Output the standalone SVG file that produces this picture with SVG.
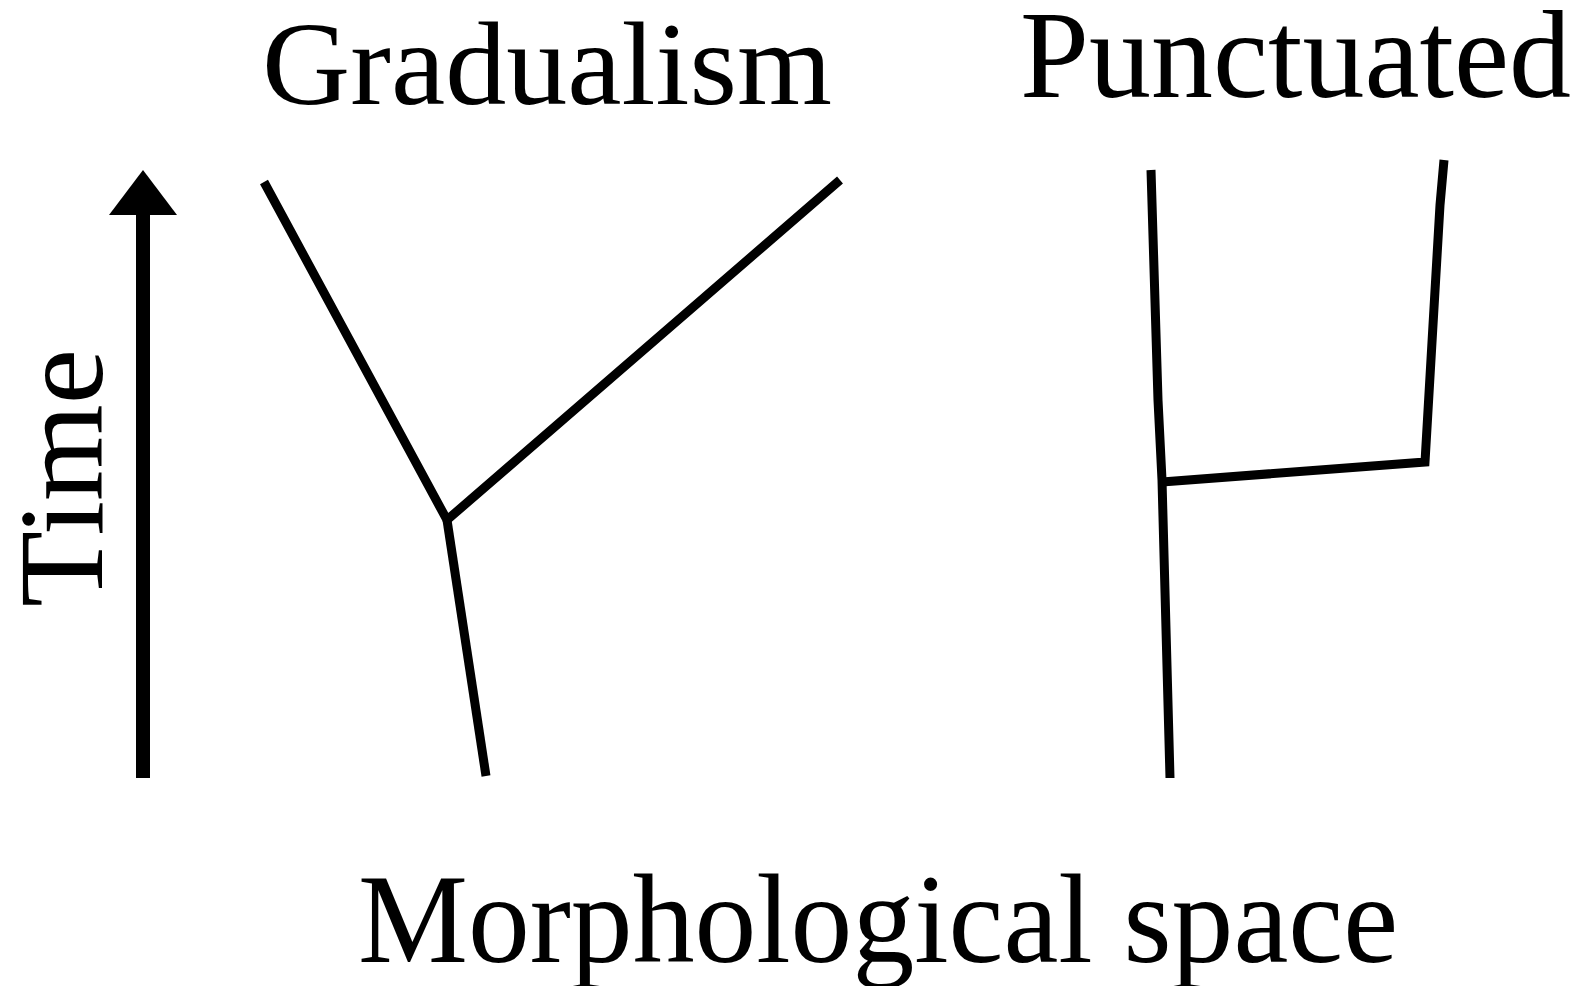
<svg xmlns="http://www.w3.org/2000/svg" width="1581" height="986" viewBox="0 0 1581 986">
<style>
.t{font-family:"Liberation Serif","Times New Roman",serif;fill:#000}
.ln{fill:none;stroke:#000;stroke-width:9;stroke-linejoin:miter;stroke-linecap:butt}
</style>
<rect width="1581" height="986" fill="#fff"/>
<g id="label-gradualism"><text class="t" x="262" y="104" font-size="119" textLength="570" lengthAdjust="spacingAndGlyphs">Gradualism</text></g>
<g id="label-punctuated"><text class="t" x="1020" y="97" font-size="125" textLength="551" lengthAdjust="spacingAndGlyphs">Punctuated</text></g>
<g id="label-time"><text class="t" transform="translate(102,607) rotate(-90)" font-size="120" textLength="258" lengthAdjust="spacingAndGlyphs">Time</text></g>
<g id="label-morph"><text class="t" x="358" y="962" font-size="127" textLength="1040" lengthAdjust="spacingAndGlyphs">Morphological space</text></g>
<g id="time-axis">
<line x1="143" y1="778" x2="143" y2="212" stroke="#000" stroke-width="14"/>
<polygon points="143,170 109,215 177,215" fill="#000"/>
</g>
<g id="connectors">
<g id="gradualism-tree">
<polyline class="ln" points="264,182 447,520 840,180"/>
<line class="ln" x1="447" y1="520" x2="486" y2="776"/>
</g>
<g id="punctuated-tree">
<polyline class="ln" points="1151,170 1158,400 1162,480 1170,778"/>
<polyline class="ln" points="1162,482 1425,462 1440,205 1444,160"/>
</g>
</g>
</svg>
